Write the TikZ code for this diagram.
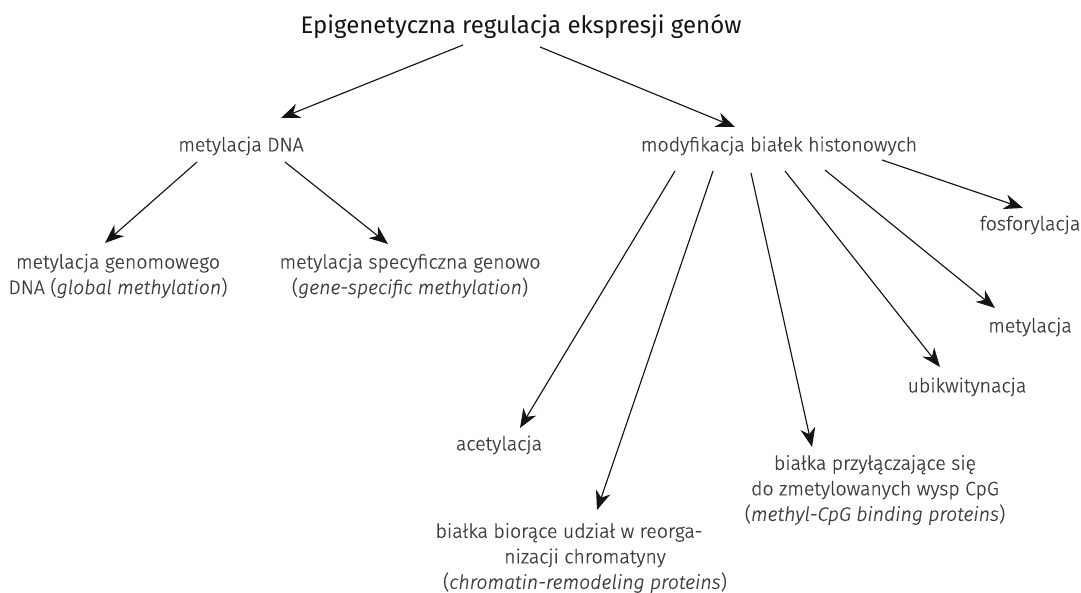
\documentclass[tikz,border=0pt]{standalone}
\usepackage{fontspec}
\setmainfont{Fira Sans}[UprightFont={* Light},ItalicFont={* Light Italic},BoldFont={* Regular},UprightFeatures={FakeBold=0.6},ItalicFeatures={FakeBold=0.6}]
\newfontfamily\titlefont{Fira Sans}
\usetikzlibrary{arrows.meta}
\begin{document}
\begin{tikzpicture}[x=1pt,y=-1pt,
  lbl/.style={inner sep=0pt,align=center,text=black!76,font=\fontsize{19.5}{25.5}\selectfont},
  ttl/.style={inner sep=0pt,text=black!92,font=\titlefont\fontsize{24}{28}\selectfont},
  arr/.style={line width=1.15pt,draw=black!92,-{Stealth[length=19pt,width=15pt,inset=6pt]}}]
\useasboundingbox (0,0) rectangle (1081,592);
% nodes
\node[ttl] (title) at (521,26) {Epigenetyczna regulacja ekspresji genów};
\node[lbl] (dna) at (241,146) {metylacja DNA};
\node[lbl] (hist) at (779,146) {modyfikacja białek histonowych};
\node[lbl] (glob) at (118,276) {metylacja genomowego\\DNA (\textit{global methylation})};
\node[lbl] (spec) at (410,276) {metylacja specyficzna genowo\\(\textit{gene-specific methylation})};
\node[lbl] (fosf) at (1030,225) {fosforylacja};
\node[lbl] (metyl) at (1030,327) {metylacja};
\node[lbl] (ubik) at (967,387) {ubikwitynacja};
\node[lbl] (acet) at (499,445) {acetylacja};
\node[lbl] (cpg) at (875,490) {białka przyłączające się\\do zmetylowanych wysp CpG\\(\textit{methyl-CpG binding proteins})};
\node[lbl] (chrom) at (585,558) {białka biorące udział w reorga-\hspace*{32pt}\\nizacji chromatyny\\(\textit{chromatin-remodeling proteins})};
% connector end points
\coordinate (t1) at (463,45);   \coordinate (e1) at (281,118);
\coordinate (t2) at (540,47);   \coordinate (e2) at (735,127);
\coordinate (d1) at (197,162);  \coordinate (f1) at (105,243);
\coordinate (d2) at (285,162);  \coordinate (f2) at (388,244);
\coordinate (h1) at (675,171);  \coordinate (g1) at (520,428);
\coordinate (h2) at (713,171);  \coordinate (g2) at (597,510);
\coordinate (h3) at (751,173);  \coordinate (g3) at (812,447);
\coordinate (h4) at (785,171);  \coordinate (g4) at (940,367);
\coordinate (h5) at (825,170);  \coordinate (g5) at (995,308);
\coordinate (h6) at (882,160);  \coordinate (g6) at (1023,208);
% connectors
\draw[arr] (t1) -- (e1);
\draw[arr] (t2) -- (e2);
\draw[arr] (d1) -- (f1);
\draw[arr] (d2) -- (f2);
\draw[arr] (h1) -- (g1);
\draw[arr] (h2) -- (g2);
\draw[arr] (h3) -- (g3);
\draw[arr] (h4) -- (g4);
\draw[arr] (h5) -- (g5);
\draw[arr] (h6) -- (g6);
\end{tikzpicture}
\end{document}
